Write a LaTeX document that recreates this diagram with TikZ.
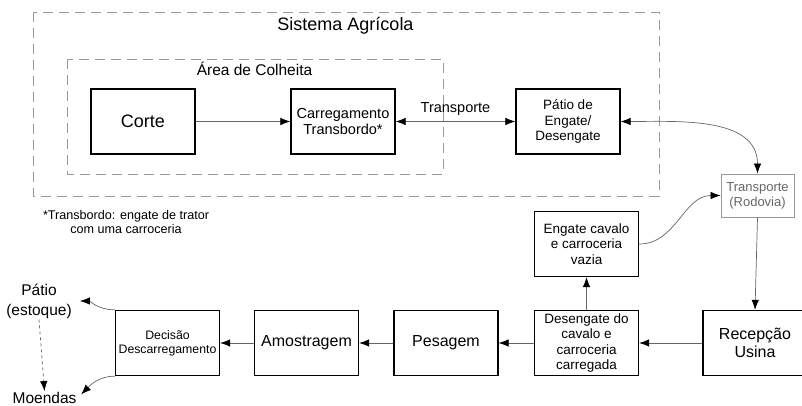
\documentclass[tikz,border=0pt]{standalone}
\usepackage{fontspec}
\setmainfont{Liberation Sans}
\usepackage{tikz}
\usetikzlibrary{arrows.meta,positioning}
\newcommand{\fs}[2]{\fontsize{#1}{#2}\selectfont}
\tikzstyle{etapa} = [draw, line width=1.3pt, text centered, align=center, minimum width=104pt, minimum height=65pt, inner sep=1pt, font=\fs{13.5}{15.5}]
\tikzstyle{rodovia} = [draw=black!40, line width=0.9pt, text=black!60, align=center, minimum width=73pt, minimum height=43pt, inner sep=1pt, font=\fs{13}{15}]
\tikzstyle{area} = [draw=black!40, line width=0.9pt, dash pattern=on 10pt off 6pt]
\tikzstyle{rotulo} = [inner sep=1pt, align=center]
\tikzstyle{arrow} = [draw, color=black!60, line width=0.7pt, -{Latex[length=10pt,width=7.5pt,color=black]}]
\tikzstyle{darrow} = [arrow, {Latex[length=10pt,width=7.5pt,color=black]}-{Latex[length=10pt,width=7.5pt,color=black]}]
\tikzstyle{tracejado} = [arrow, dashed]
\newcommand{\etapa}[3]{node (e#1) [etapa,#2] {#3}}
\begin{document}
\begin{tikzpicture}[x=1pt,y=-1pt]
\useasboundingbox (0,0) rectangle (802,406);
\clip (0,0) rectangle (802,406);
% areas tracejadas
\draw [area] (33,12) rectangle (659,196);
\draw [area] (67,59) rectangle (443,174);
\node (sa) [rotulo, font=\fs{18}{20}, anchor=base] at (345.5,31) {Sistema Agrícola};
\node (ac) [rotulo, font=\fs{15.5}{18}, anchor=base] at (254.5,76) {Área de Colheita};

% etapas
\node (e1) [etapa, font=\fs{18}{20}] at (143,121.5) {Corte};
\path (e1)+(200,0) \etapa{2}{font=\fs{14.5}{16}}{Carregamento\\Transbordo*};
\path (e2)+(225,0) \etapa{3}{}{Pátio de\\Engate/\\Desengate};
\path (e3)+(189.5,74) node (r1) [rodovia] {Transporte\\(Rodovia)};
\path (e3)+(18.5,122.5) \etapa{4}{}{Engate cavalo\\e carroceria\\vazia};
\path (e4)+(0,99) \etapa{5}{}{Desengate do\\cavalo e\\carroceria\\carregada};
\path (e5)+(168.5,0) \etapa{6}{font=\fs{16}{18}}{Recepção\\Usina};
\path (e5)+(-140.5,0) \etapa{7}{font=\fs{16}{18}}{Pesagem};
\path (e7)+(-139.5,0) \etapa{8}{font=\fs{16}{18}}{Amostragem};
\path (e8)+(-139,0) \etapa{9}{font=\fs{12.3}{14}}{Decisão\\Descarregamento};

\node (pa) [rotulo, font=\fs{15.5}{20}] at (39,301) {Pátio\\(estoque)};
\node (mo) [rotulo, font=\fs{15.5}{18}, anchor=base] at (44.5,403.5) {Moendas};
\node (nt) [rotulo, font=\fs{12.6}{14}] at (126,222) {*Transbordo: engate de trator\\com uma carroceria};

% ligacoes
\path [arrow] (e1.east) -- (e2.west);
\path [darrow] (e2.east) -- node[above, text=black, font=\fs{14.5}{16}, yshift=2pt] (tl) {Transporte} (e3.west);
\path [darrow] (e3.east) to[out=0,in=90] (r1.north);
\path [arrow] (e4.east) to[out=0,in=180] (r1.west);
\path [arrow] (r1.south) -- (e6.north);
\path [arrow] (e6.west) -- (e5.east);
\path [arrow] (e5.north) -- (e4.south);
\path [arrow] (e5.west) -- (e7.east);
\path [arrow] (e7.west) -- (e8.east);
\path [arrow] (e8.west) -- (e9.east);
\path [arrow, shorten >=7pt] (e9.north west) to[out=180,in=0] (pa.east);
\path [arrow, shorten >=5pt] (e9.south west) to[out=180,in=45] (mo.east);
\path [tracejado] (pa.south) -- (mo.north);
\end{tikzpicture}
\end{document}
